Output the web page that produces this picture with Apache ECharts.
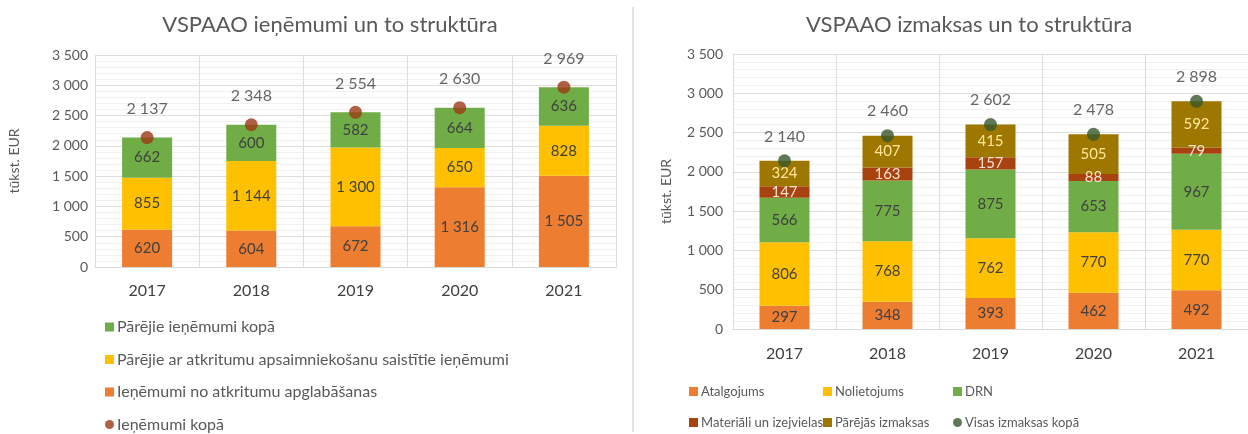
<!DOCTYPE html>
<html>
<head>
<meta charset="utf-8">
<script src="https://cdn.jsdelivr.net/npm/echarts@6/dist/echarts.min.js"></script>
<style>
  html, body { margin: 0; padding: 0; background: #fff; }
  #chart { width: 1248px; height: 434px; }
</style>
</head>
<body>
<div id="chart"></div>
<script>
var years = ['2017', '2018', '2019', '2020', '2021'];

// ieņēmumi (left chart)
var apglabasana = [620, 604, 672, 1316, 1505];
var parejieSaistitie = [855, 1144, 1300, 650, 828];
var parejieKopa = [662, 600, 582, 664, 636];
var ienemumiKopa = [2137, 2348, 2554, 2630, 2969];

// izmaksas (right chart)
var atalgojums = [297, 348, 393, 462, 492];
var nolietojums = [806, 768, 762, 770, 770];
var drn = [566, 775, 875, 653, 967];
var materiali = [147, 163, 157, 88, 79];
var parejasIzmaksas = [324, 407, 415, 505, 592];
var izmaksasKopa = [2140, 2460, 2602, 2478, 2898];

var FONT = 'Lato';
var TXT = '#595959';

function fmt(v) {
    return String(v).replace(/\B(?=(\d{3})+(?!\d))/g, ' ');
}

function barSeries(name, data, color, grid, labelColor) {
    return {
        name: name, type: 'bar', stack: 's' + grid, data: data,
        xAxisIndex: grid, yAxisIndex: grid,
        barWidth: 50,
        itemStyle: {color: color},
        label: {
            show: true, position: 'inside',
            color: labelColor || '#404040', fontFamily: FONT, fontSize: 15,
            formatter: function (p) { return fmt(p.value); }
        }
    };
}

function totalSeries(name, data, color, grid, dist) {
    return {
        name: name, type: 'scatter', data: data,
        xAxisIndex: grid, yAxisIndex: grid,
        symbol: 'circle', symbolSize: 13, z: 5,
        itemStyle: {color: color},
        label: {
            show: true, position: 'top', distance: dist,
            color: '#404040', fontFamily: FONT, fontSize: 16,
            formatter: function (p) { return fmt(p.value); }
        }
    };
}

function xAx(grid, margin) {
    return {
        type: 'category', data: years, gridIndex: grid,
        axisLine: {lineStyle: {color: '#D9D9D9'}},
        axisTick: {show: false},
        splitLine: {show: true, lineStyle: {color: '#DDDDDD'}},
        axisLabel: {color: '#404040', fontFamily: FONT, fontSize: 16, margin: margin}
    };
}

function yAx(grid, gap, margin) {
    return {
        type: 'value', gridIndex: grid, min: 0, max: 3500, interval: 500,
        name: 'tūkst. EUR', nameLocation: 'middle', nameGap: gap, nameRotate: 90,
        nameMoveOverlap: false,
        nameTextStyle: {color: TXT, fontFamily: FONT, fontSize: 14},
        axisLabel: {color: TXT, fontFamily: FONT, fontSize: 14, margin: margin,
            formatter: function (v) { return fmt(v); }},
        splitLine: {lineStyle: {color: '#DDDDDD'}},
        minorTick: {show: false, splitNumber: 5},
        minorSplitLine: {show: true, lineStyle: {color: '#F0F0F0'}}
    };
}

function legendBox(left, top, h, size, gap, items) {
    return {
        orient: 'vertical', left: left, top: top, height: h,
        itemGap: gap, itemWidth: 9, itemHeight: 9,
        textStyle: {color: TXT, fontFamily: FONT, fontSize: size, padding: [0, 0, 0, -2]},
        data: items
    };
}

var chartDom = document.getElementById('chart');
var myChart = echarts.init(chartDom);
var option;
option = {
    animation: false,
    backgroundColor: '#fff',
    title: [
        {text: 'VSPAAO ieņēmumi un to struktūra', left: 325, top: 9, textAlign: 'center',
            textStyle: {color: TXT, fontFamily: FONT, fontSize: 22, fontWeight: 'normal'}},
        {text: 'VSPAAO izmaksas un to struktūra', left: 964, top: 9, textAlign: 'center',
            textStyle: {color: TXT, fontFamily: FONT, fontSize: 22, fontWeight: 'normal'}}
    ],
    grid: [
        {left: 95, right: 632, top: 55, bottom: 167},
        {left: 733, width: 523, top: 54, bottom: 105}
    ],
    xAxis: [xAx(0, 16), xAx(1, 17)],
    yAxis: [yAx(0, 74, 7), yAx(1, 60, 10)],
    legend: [
        legendBox(100, 314, 160, 16, 16.5, [
            {name: 'Pārējie ieņēmumi kopā', icon: 'rect'},
            {name: 'Pārējie ar atkritumu apsaimniekošanu saistītie ieņēmumi', icon: 'rect'},
            {name: 'Ieņēmumi no atkritumu apglabāšanas', icon: 'rect'},
            {name: 'Ieņēmumi kopā', icon: 'circle'}
        ]),
        legendBox(684, 380, 90, 13, 18, [{name: 'Atalgojums', icon: 'rect'}, {name: 'Materiāli un izejvielas', icon: 'rect'}]),
        legendBox(818, 380, 90, 13, 18, [{name: 'Nolietojums', icon: 'rect'}, {name: 'Pārējās izmaksas', icon: 'rect'}]),
        legendBox(948, 380, 90, 13, 18, [{name: 'DRN', icon: 'rect'}, {name: 'Visas izmaksas kopā', icon: 'circle'}])
    ],
    graphic: [
        {type: 'line', shape: {x1: 633, y1: 7, x2: 633, y2: 432},
            style: {stroke: '#E3E3E3', lineWidth: 2}}
    ],
    series: [
        barSeries('Ieņēmumi no atkritumu apglabāšanas', apglabasana, '#ED7D31', 0),
        barSeries('Pārējie ar atkritumu apsaimniekošanu saistītie ieņēmumi', parejieSaistitie, '#FFC000', 0),
        barSeries('Pārējie ieņēmumi kopā', parejieKopa, '#70AD47', 0),
        totalSeries('Ieņēmumi kopā', ienemumiKopa, '#9C3A14', 0, 14),

        barSeries('Atalgojums', atalgojums, '#ED7D31', 1),
        barSeries('Nolietojums', nolietojums, '#FFC000', 1),
        barSeries('DRN', drn, '#70AD47', 1),
        barSeries('Materiāli un izejvielas', materiali, '#A8420F', 1, '#FBE2CF'),
        barSeries('Pārējās izmaksas', parejasIzmaksas, '#9E7700', 1, '#FFE699'),
        totalSeries('Visas izmaksas kopā', izmaksasKopa, '#38582A', 1, 10)
    ]
};
option && myChart.setOption(option);
</script>
</body>
</html>
